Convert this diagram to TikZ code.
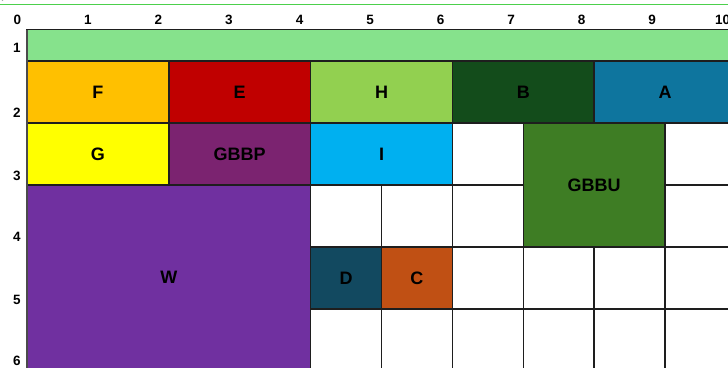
\documentclass[tikz,border=0pt]{standalone}
\usepackage{fontspec}
\setmainfont{Liberation Sans}
\definecolor{cBar}{RGB}{134,226,140}
\definecolor{cTop}{RGB}{76,208,76}
\definecolor{cF}{RGB}{255,192,0}
\definecolor{cE}{RGB}{192,0,0}
\definecolor{cH}{RGB}{146,208,80}
\definecolor{cB}{RGB}{19,76,27}
\definecolor{cA}{RGB}{14,117,158}
\definecolor{cG}{RGB}{255,255,0}
\definecolor{cP}{RGB}{123,35,112}
\definecolor{cI}{RGB}{0,176,240}
\definecolor{cU}{RGB}{62,125,36}
\definecolor{cW}{RGB}{112,48,160}
\definecolor{cD}{RGB}{18,73,96}
\definecolor{cC}{RGB}{192,80,20}
\definecolor{cLine}{RGB}{30,30,30}
\begin{document}
\begin{tikzpicture}[x=1pt,y=-1pt,
  cell/.style={draw=cLine,line width=1.5pt,inner sep=0pt,outer sep=0pt,
    font=\fontsize{18}{18}\selectfont\bfseries,text=black},
  axl/.style={font=\fontsize{13.5}{13.5}\selectfont\bfseries,text=black,inner sep=0pt},
  gridl/.style={draw=cLine,line width=1.5pt}]
\useasboundingbox (0,0) rectangle (728,367);
\fill[white] (0,0) rectangle (728,367);
% top thin green line and corner mark
\draw[cTop,line width=1.2pt] (0,4.7) -- (728,4.7);
\draw[gray,line width=0.6pt] (3,0.5) arc[start angle=90,end angle=200,radius=2.5];
% axis labels
\foreach \k in {0,...,10} {
  \node[axl] (col\k) at ({17.5+70.5*\k},19.5) {\k};
}
\node[axl] (row1) at (17,48) {1};
\node[axl] (row2) at (17,113) {2};
\node[axl] (row3) at (17,176) {3};
\node[axl] (row4) at (17,237) {4};
\node[axl] (row5) at (17,300) {5};
\node[axl] (row6) at (17,361) {6};
% white grid area
\foreach \x in {310.6,381.5,452.4,523.3,594.2,665.1} {
  \draw[gridl] (\x,123) -- (\x,371);
}
\foreach \y in {185,247,309} {
  \draw[gridl] (310.6,\y) -- (736,\y);
}
% green bar
\node[cell,fill=cBar,minimum width=720,minimum height=31.5,anchor=north west] (bar) at (27,29.5) {};
% row 1
\node[cell,fill=cF,minimum width=141.8,minimum height=62] (F) at (97.9,92) {F};
\node[cell,fill=cE,minimum width=141.8,minimum height=62] (E) at (239.7,92) {E};
\node[cell,fill=cH,minimum width=141.8,minimum height=62] (H) at (381.5,92) {H};
\node[cell,fill=cB,minimum width=141.8,minimum height=62] (B) at (523.3,92) {B};
\node[cell,fill=cA,minimum width=141.8,minimum height=62] (A) at (665.1,92) {A};
% row 2
\node[cell,fill=cG,minimum width=141.8,minimum height=62] (G) at (97.9,154) {G};
\node[cell,fill=cP,minimum width=141.8,minimum height=62] (GBBP) at (239.7,154) {GBBP};
\node[cell,fill=cI,minimum width=141.8,minimum height=62] (I) at (381.5,154) {I};
\node[cell,fill=cU,minimum width=141.8,minimum height=124] (GBBU) at (594.2,185) {GBBU};
% W
\node[cell,fill=cW,minimum width=283.6,minimum height=186] (W) at (168.8,278) {};
\node[font=\fontsize{18}{18}\selectfont\bfseries,inner sep=0pt] (Wl) at (168.8,277) {W};
% row 4
\node[cell,fill=cD,minimum width=70.9,minimum height=62] (D) at (346.05,278) {D};
\node[cell,fill=cC,minimum width=70.9,minimum height=62] (C) at (416.95,278) {C};
% left border line
\draw[cLine!80,line width=1.8pt] (27,29.5) -- (27,371);
\end{tikzpicture}
\end{document}
